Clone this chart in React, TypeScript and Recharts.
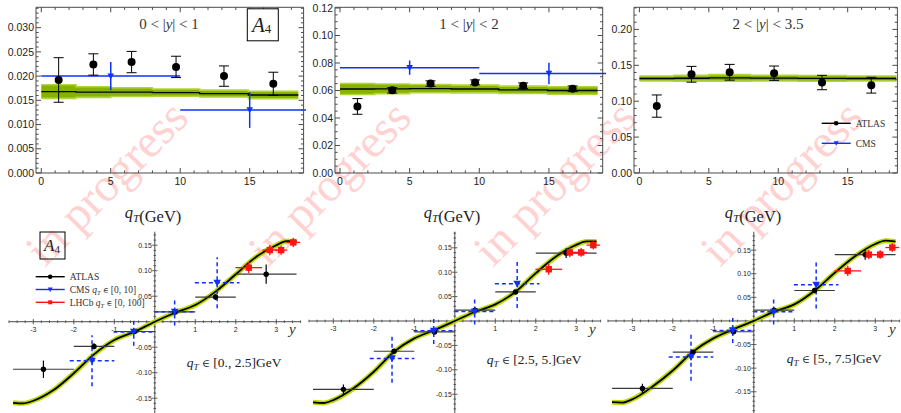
import React from 'react';
import {
  ComposedChart,
  XAxis,
  YAxis,
  Line,
  Area,
  Scatter,
  ErrorBar,
  ReferenceLine,
  ReferenceDot,
} from 'recharts';

const SERIF = "'Liberation Serif', 'Times New Roman', serif";
const SANS = "'Liberation Sans', Arial, sans-serif";
const FRAME = '#4a4a4a';
const BLUE = '#1030ff';
const RED = '#ff1414';
const GREEN = '#86b300';
const GREEN_EDGE = '#b2d43c';
const BAND_LINE = '#bcd800';

// ---------- top row: A4 vs qT ----------
const qtEdges = [0, 2.5, 5, 8, 11.4, 14.9, 18.5];
const qtCenters = [1.25, 3.75, 6.5, 9.7, 13.15, 16.7];
const cmsQt = [5, 15];
const cmsHalf = [5, 5];

// 0 < |y| < 1
const atlas1 = [0.0192, 0.0224, 0.0229, 0.0219, 0.02, 0.0184];
const atlasErr1 = [0.0046, 0.0022, 0.0022, 0.0022, 0.0021, 0.0024];
const cms1 = [0.02, 0.013];
const cmsErr1 = [0.0029, 0.0037];
const theory1 = [0.0168, 0.0167, 0.0167, 0.0166, 0.0164, 0.0161];
const theoryErr1 = [0.0014, 0.0011, 0.0009, 0.00075, 0.0007, 0.00076];

// 1 < |y| < 2
const atlas2 = [0.0484, 0.0601, 0.065, 0.0659, 0.0635, 0.0613];
const atlasErr2 = [0.0057, 0.002, 0.002, 0.0018, 0.002, 0.002];
const cms2 = [0.0766, 0.0724];
const cmsErr2 = [0.0052, 0.0078];
const theory2 = [0.0611, 0.0612, 0.0614, 0.0611, 0.0605, 0.06];
const theoryErr2 = [0.004, 0.0035, 0.003, 0.0028, 0.0027, 0.0027];

// 2 < |y| < 3.5
const atlas3 = [0.0932, 0.1375, 0.1403, 0.139, 0.126, 0.1223];
const atlasErr3 = [0.0155, 0.011, 0.011, 0.01, 0.01, 0.011];
const theory3 = [0.1316, 0.132, 0.1325, 0.1322, 0.1318, 0.1316];
const theoryErr3 = [0.0035, 0.004, 0.0045, 0.004, 0.004, 0.0035];

// ---------- bottom row: A4 vs rapidity ----------
const rapCurve = [-3.5, -3.25, -3, -2.5, -2, -1.5, -1, -0.5, 0, 0.5, 1, 1.5, 2, 2.5, 3, 3.25, 3.5];
const curveA = [-0.159, -0.16, -0.155, -0.134, -0.101, -0.064, -0.036, -0.0196, 0, 0.0176, 0.0327, 0.059, 0.093, 0.127, 0.15, 0.158, 0.158];
const curveB = [-0.1667, -0.168, -0.162, -0.138, -0.104, -0.063, -0.0356, -0.0185, 0, 0.019, 0.034, 0.06, 0.098, 0.132, 0.156, 0.163, 0.163];
const curveC = [-0.172, -0.173, -0.166, -0.139, -0.105, -0.065, -0.037, -0.0176, 0, 0.0197, 0.035, 0.064, 0.102, 0.137, 0.163, 0.17, 0.168];

const atlasRap = [-2.75, -1.5, -0.5, 0.5, 1.5, 2.75];
const atlasRapHalf = [0.75, 0.5, 0.5, 0.5, 0.5, 0.75];
const atlasA = [-0.0932, -0.0484, -0.0192, 0.0192, 0.0484, 0.0932];
const atlasAErr = [0.017, 0.006, 0.005, 0.005, 0.006, 0.019];
const atlasB = [-0.14, -0.062, -0.0224, 0.0224, 0.0595, 0.139];
const atlasBErr = [0.01, 0.003, 0.003, 0.003, 0.003, 0.01];
const atlasC = [-0.143, -0.066, -0.0229, 0.0229, 0.0645, 0.1405];
const atlasCErr = [0.01, 0.003, 0.003, 0.003, 0.003, 0.011];

const cmsRap = [-1.55, -0.52, 0.49, 1.54];
const cmsRapHalf = [0.55, 0.5, 0.5, 0.55];
const cmsA = [-0.0766, -0.02, 0.0196, 0.0765];
const cmsAErr = [0.05, 0.027, 0.027, 0.05];

const lhcbRap = [2.32, 2.84, 3.12, 3.42];
const lhcbRapHalf = [0.33, 0.18, 0.15, 0.17];
const lhcbA = [0.106, 0.1405, 0.1405, 0.1555];
const lhcbAErr = [0.011, 0.01, 0.009, 0.009];

// ---------- helpers ----------
const steps = (a: number, b: number, s: number) => {
  const out: number[] = [];
  for (let i = 0; a + i * s <= b + 1e-9; i++) out.push(+(a + i * s).toFixed(6));
  return out;
};
const isMajor = (v: number, majors: number[]) => majors.some((m) => Math.abs(m - v) < 1e-9);

const bandRows = (c: number[], w: number[]) =>
  qtEdges.map((q, i) => {
    const k = Math.min(i, c.length - 1);
    return { q, c: c[k], range: [c[k] - w[k], c[k] + w[k]] };
  });

const dot = (r: number, fill: string) => (p: any) => <circle cx={p.cx} cy={p.cy} r={r} fill={fill} />;
const tri = (s: number, fill: string) => (p: any) => (
  <polygon
    points={`${p.cx - s},${p.cy - s * 0.8} ${p.cx + s},${p.cy - s * 0.8} ${p.cx},${p.cy + s}`}
    fill={fill}
  />
);
const square = (s: number, fill: string) => (p: any) => (
  <rect x={p.cx - s} y={p.cy - s} width={2 * s} height={2 * s} fill={fill} />
);

const frameTick =
  (side: 'bottom' | 'left' | 'top' | 'right', majors: number[], fmt?: (v: number) => string) =>
  (p: any) => {
    const v = p.payload.value;
    const big = isMajor(v, majors);
    const len = big ? 5 : 2.6;
    const { x, y } = p;
    let ln: any;
    let lb: any = null;
    if (side === 'bottom') {
      ln = <line x1={x} y1={y} x2={x} y2={y - len} stroke={FRAME} strokeWidth={1} />;
      if (big && fmt)
        lb = (
          <text x={x} y={y + 12.5} textAnchor="middle" fontSize={10.5} fontFamily={SANS} fill="#222">
            {fmt(v)}
          </text>
        );
    } else if (side === 'top') {
      ln = <line x1={x} y1={y} x2={x} y2={y + len} stroke={FRAME} strokeWidth={1} />;
    } else if (side === 'left') {
      ln = <line x1={x} y1={y} x2={x + len} y2={y} stroke={FRAME} strokeWidth={1} />;
      if (big && fmt)
        lb = (
          <text x={x - 2} y={y + 3.7} textAnchor="end" fontSize={10.5} fontFamily={SANS} fill="#222">
            {fmt(v)}
          </text>
        );
    } else {
      ln = <line x1={x} y1={y} x2={x - len} y2={y} stroke={FRAME} strokeWidth={1} />;
    }
    return (
      <g>
        {ln}
        {lb}
      </g>
    );
  };

interface TopProps {
  rect: { left: number; top: number; right: number; bottom: number };
  xDomain: [number, number];
  yDomain: [number, number];
  yMajors: number[];
  yMinor: number;
  yDigits: number;
  theory: number[];
  theoryErr: number[];
  atlas: number[];
  atlasErr: number[];
  cms?: number[];
  cmsErr?: number[];
}

const TopPanel = ({ rect, xDomain, yDomain, yMajors, yMinor, yDigits, theory, theoryErr, atlas, atlasErr, cms, cmsErr }: TopProps) => {
  const left0 = rect.left - 36;
  const width = rect.right - left0 + 3;
  const height = rect.bottom + 30;
  const xMajors = [0, 5, 10, 15];
  const xTicks = steps(0, 18, 1);
  const yTicks = steps(yDomain[0], yDomain[1], yMinor);
  const band = bandRows(theory, theoryErr);
  const atlasRows = qtCenters.map((q, i) => ({ q, v: atlas[i], ey: atlasErr[i] }));
  const cmsRows = cms ? cmsQt.map((q, i) => ({ q, v: cms[i], ex: cmsHalf[i], ey: (cmsErr as number[])[i] })) : null;
  const axisLine = { stroke: FRAME, strokeWidth: 1 };
  return (
    <div style={{ position: 'absolute', left: left0, top: 0 }}>
      <ComposedChart width={width} height={height} margin={{ top: rect.top - 1, right: 2, bottom: 0, left: 0 }}>
        <XAxis
          type="number"
          dataKey="q"
          domain={xDomain}
          allowDataOverflow
          ticks={xTicks}
          interval={0}
          height={30}
          tickSize={0}
          tickMargin={0}
          tickLine={false}
          axisLine={axisLine}
          tick={frameTick('bottom', xMajors, (v) => String(v))}
        />
        <XAxis
          xAxisId="t"
          orientation="top"
          type="number"
          dataKey="q"
          domain={xDomain}
          allowDataOverflow
          ticks={xTicks}
          interval={0}
          height={1}
          tickSize={0}
          tickMargin={0}
          tickLine={false}
          axisLine={axisLine}
          tick={frameTick('top', xMajors)}
        />
        <YAxis
          type="number"
          domain={yDomain}
          allowDataOverflow
          ticks={yTicks}
          interval={0}
          width={36}
          tickSize={0}
          tickMargin={0}
          tickLine={false}
          axisLine={axisLine}
          tick={frameTick('left', yMajors, (v) => v.toFixed(yDigits))}
        />
        <YAxis
          yAxisId="r"
          orientation="right"
          type="number"
          domain={yDomain}
          allowDataOverflow
          ticks={yTicks}
          interval={0}
          width={1}
          tickSize={0}
          tickMargin={0}
          tickLine={false}
          axisLine={axisLine}
          tick={frameTick('right', yMajors)}
        />
        <Area
          data={band}
          dataKey="range"
          type="stepAfter"
          fill={GREEN}
          fillOpacity={1}
          stroke={GREEN_EDGE}
          strokeWidth={1.6}
          dot={false}
          activeDot={false}
          isAnimationActive={false}
        />
        <Line
          data={band}
          dataKey="c"
          type="stepAfter"
          stroke="#000"
          strokeWidth={1.3}
          dot={false}
          activeDot={false}
          isAnimationActive={false}
        />
        {cmsRows && (
          <Scatter data={cmsRows} dataKey="v" shape={tri(3.3, BLUE)} isAnimationActive={false}>
            <ErrorBar dataKey="ex" direction="x" width={0} stroke={BLUE} strokeWidth={1.5} />
            <ErrorBar dataKey="ey" direction="y" width={0} stroke={BLUE} strokeWidth={1.5} />
          </Scatter>
        )}
        <Scatter data={atlasRows} dataKey="v" shape={dot(4, '#000')} isAnimationActive={false}>
          <ErrorBar dataKey="ey" direction="y" width={5} stroke="#000" strokeWidth={1} />
        </Scatter>
      </ComposedChart>
    </div>
  );
};

interface BottomProps {
  axisX: number;
  yDomain: [number, number];
  curve: number[];
  atlas: number[];
  atlasErr: number[];
}

const xTickShape = (t: number) => (p: any) => {
  const big = Math.abs(t - Math.round(t)) < 1e-9;
  const len = big ? 2.6 : 1.3;
  return (
    <g>
      <line x1={p.cx} y1={p.cy - len} x2={p.cx} y2={p.cy + len} stroke={FRAME} strokeWidth={0.9} />
      {big && (
        <text x={p.cx} y={p.cy + 10} textAnchor="middle" fontSize={7} fontFamily={SANS} fill="#222">
          {String(t)}
        </text>
      )}
    </g>
  );
};

const yTickShape = (t: number) => (p: any) => {
  const big = Math.abs(t / 0.05 - Math.round(t / 0.05)) < 1e-6;
  const len = big ? 2.6 : 1.3;
  return (
    <g>
      <line x1={p.cx - len} y1={p.cy} x2={p.cx + len} y2={p.cy} stroke={FRAME} strokeWidth={0.9} />
      {big && (
        <text x={p.cx - 3} y={p.cy + 2.5} textAnchor="end" fontSize={7} fontFamily={SANS} fill="#222">
          {t.toFixed(2)}
        </text>
      )}
    </g>
  );
};

const BottomPanel = ({ axisX, yDomain, curve, atlas, atlasErr }: BottomProps) => {
  const xDomain: [number, number] = [-3.6, 3.6];
  const plotW = 291.6;
  const left0 = axisX - plotW / 2 - 5;
  const curveRows = rapCurve.map((r, i) => ({ r, a: curve[i] }));
  const atlasRows = atlasRap.map((r, i) => ({ r, a: atlas[i], ex: atlasRapHalf[i], ey: atlasErr[i] }));
  const cmsRows = cmsRap.map((r, i) => ({ r, a: cmsA[i], ex: cmsRapHalf[i], ey: cmsAErr[i] }));
  const lhcbRows = lhcbRap.map((r, i) => ({ r, a: lhcbA[i], ex: lhcbRapHalf[i], ey: lhcbAErr[i] }));
  const xTicks = steps(-3.6, 3.6, 0.2).filter((t) => Math.abs(t) > 1e-9);
  const yTicks = steps(Math.ceil(yDomain[0] / 0.01) * 0.01, yDomain[1], 0.01).filter((t) => Math.abs(t) > 1e-9);
  return (
    <div style={{ position: 'absolute', left: left0, top: 225 }}>
      <ComposedChart width={plotW + 10} height={188} margin={{ top: 6.7, right: 5, bottom: 0, left: 5 }}>
        <XAxis type="number" dataKey="r" domain={xDomain} allowDataOverflow hide />
        <YAxis type="number" domain={yDomain} allowDataOverflow hide />
        <ReferenceLine y={0} stroke={FRAME} strokeWidth={1} />
        <ReferenceLine x={0} stroke={FRAME} strokeWidth={1} />
        {xTicks.map((t) => (
          <ReferenceDot key={'x' + t} x={t} y={0} r={0} shape={xTickShape(t)} />
        ))}
        {yTicks.map((t) => (
          <ReferenceDot key={'y' + t} x={0} y={t} r={0} shape={yTickShape(t)} />
        ))}
        <Line
          data={curveRows}
          dataKey="a"
          type="monotone"
          stroke={BAND_LINE}
          strokeWidth={5}
          dot={false}
          activeDot={false}
          isAnimationActive={false}
        />
        <Line
          data={curveRows}
          dataKey="a"
          type="monotone"
          stroke="#000"
          strokeWidth={1.8}
          dot={false}
          activeDot={false}
          isAnimationActive={false}
        />
        <Scatter data={atlasRows} dataKey="a" shape={dot(2.7, '#000')} isAnimationActive={false}>
          <ErrorBar dataKey="ex" direction="x" width={0} stroke="#3a3a3a" strokeWidth={1.2} />
          <ErrorBar dataKey="ey" direction="y" width={0} stroke="#000" strokeWidth={1.2} />
        </Scatter>
        <Scatter data={cmsRows} dataKey="a" shape={tri(3.8, BLUE)} isAnimationActive={false}>
          <ErrorBar dataKey="ex" direction="x" width={0} stroke={BLUE} strokeWidth={1.5} strokeDasharray="4 3" />
          <ErrorBar dataKey="ey" direction="y" width={0} stroke={BLUE} strokeWidth={1.5} strokeDasharray="4 3" />
        </Scatter>
        <Scatter data={lhcbRows} dataKey="a" shape={square(3.2, RED)} isAnimationActive={false}>
          <ErrorBar dataKey="ex" direction="x" width={0} stroke={RED} strokeWidth={1.3} />
          <ErrorBar dataKey="ey" direction="y" width={0} stroke={RED} strokeWidth={1.3} />
        </Scatter>
      </ComposedChart>
    </div>
  );
};

const Elem = ({ size }: { size: number }) => (
  <tspan fontFamily="'DejaVu Serif', serif" fontSize={size * 0.8} fontWeight={300}>
    {' ∈ '}
  </tspan>
);

const QtText = ({ x, y, size, anchor, tail, elem }: { x: number; y: number; size: number; anchor: string; tail: string; elem?: boolean }) => (
  <text x={x} y={y} fontSize={size} fontFamily={SERIF} fill="#222" textAnchor={anchor as any}>
    <tspan fontStyle="italic">q</tspan>
    <tspan fontStyle="italic" fontSize={size * 0.68} dy={size * 0.22}>
      T
    </tspan>
    <tspan dy={-size * 0.22}>{elem ? ' ' : ''}</tspan>
    {elem && <Elem size={size} />}
    <tspan>{tail}</tspan>
  </text>
);

const Title = ({ x, lo, hi }: { x: number; lo: string; hi: string }) => (
  <text x={x} y={29} textAnchor="middle" fontSize={15} fontFamily={SERIF} fill="#333">
    {lo} &lt; |<tspan fontStyle="italic">y</tspan>| &lt; {hi}
  </text>
);

const LegendRow = ({ x, y, color, marker, children }: { x: number; y: number; color: string; marker: string; children: any }) => (
  <g>
    <line x1={x} y1={y} x2={x + 29} y2={y} stroke={color} strokeWidth={1.4} />
    {marker === 'dot' && <circle cx={x + 14.5} cy={y} r={2.3} fill={color} />}
    {marker === 'tri' && <polygon points={`${x + 12},${y - 2} ${x + 17},${y - 2} ${x + 14.5},${y + 2.5}`} fill={color} />}
    {marker === 'sq' && <rect x={x + 12.5} y={y - 2} width={4} height={4} fill={color} />}
    <text x={x + 34} y={y + 3.3} fontSize={9.5} fontFamily={SERIF} fill="#333">
      {children}
    </text>
  </g>
);

const QtInline = ({ range }: { range: string }) => (
  <>
    <tspan fontStyle="italic">q</tspan>
    <tspan fontStyle="italic" fontSize={6.5} dy={2}>
      T
    </tspan>
    <tspan dy={-2}> </tspan>
    <tspan fontFamily="'DejaVu Serif', serif" fontSize={7.5}>
      ∈
    </tspan>
    <tspan> {range}</tspan>
  </>
);

const App = () => (
  <div style={{ position: 'absolute', left: 0, top: 0, width: 901, height: 413, background: '#fff', overflow: 'hidden' }}>
    <svg width={901} height={413} style={{ position: 'absolute', left: 0, top: 0 }}>
      {[45, 268, 493, 720].map((x) => (
        <text key={x} x={x} y={268} transform={`rotate(-45.5 ${x} 268)`} fontSize={47} fontFamily={SERIF} fill="#ffd2d2">
          in progress
        </text>
      ))}
    </svg>

    <TopPanel
      rect={{ left: 35.7, top: 7.3, right: 303.3, bottom: 173 }}
      xDomain={[-0.38, 18.88]}
      yDomain={[0, 0.0342]}
      yMajors={[0, 0.005, 0.01, 0.015, 0.02, 0.025, 0.03]}
      yMinor={0.001}
      yDigits={3}
      theory={theory1}
      theoryErr={theoryErr1}
      atlas={atlas1}
      atlasErr={atlasErr1}
      cms={cms1}
      cmsErr={cmsErr1}
    />
    <TopPanel
      rect={{ left: 335, top: 7.3, right: 602.7, bottom: 173 }}
      xDomain={[-0.36, 18.86]}
      yDomain={[0, 0.1205]}
      yMajors={[0, 0.02, 0.04, 0.06, 0.08, 0.1, 0.12]}
      yMinor={0.005}
      yDigits={2}
      theory={theory2}
      theoryErr={theoryErr2}
      atlas={atlas2}
      atlasErr={atlasErr2}
      cms={cms2}
      cmsErr={cmsErr2}
    />
    <TopPanel
      rect={{ left: 634.3, top: 7.3, right: 897.7, bottom: 173 }}
      xDomain={[-0.39, 18.58]}
      yDomain={[0, 0.2308]}
      yMajors={[0, 0.05, 0.1, 0.15, 0.2]}
      yMinor={0.01}
      yDigits={2}
      theory={theory3}
      theoryErr={theoryErr3}
      atlas={atlas3}
      atlasErr={atlasErr3}
    />

    <BottomPanel axisX={154.3} yDomain={[-0.179, 0.1765]} curve={curveA} atlas={atlasA} atlasErr={atlasAErr} />
    <BottomPanel axisX={454.3} yDomain={[-0.1885, 0.183]} curve={curveB} atlas={atlasB} atlasErr={atlasBErr} />
    <BottomPanel axisX={753.7} yDomain={[-0.195, 0.189]} curve={curveC} atlas={atlasC} atlasErr={atlasCErr} />

    <svg width={901} height={413} style={{ position: 'absolute', left: 0, top: 0, pointerEvents: 'none' }}>
      <Title x={169} lo="0" hi="1" />
      <Title x={469} lo="1" hi="2" />
      <Title x={768} lo="2" hi="3.5" />

      <rect x={247.3} y={8.8} width={31} height={32} fill="#fff" stroke="#000" strokeWidth={1} />
      <text x={252} y={31.7} fontSize={21} fontFamily={SERIF} fill="#222">
        <tspan fontStyle="italic">A</tspan>
        <tspan fontSize={13} dy={1.5}>4</tspan>
      </text>

      <rect x={40} y={232} width={25} height={27} fill="none" stroke="#000" strokeWidth={1} />
      <text x={44} y={251} fontSize={17} fontFamily={SERIF} fill="#222">
        <tspan fontStyle="italic">A</tspan>
        <tspan fontSize={11} dy={1.5}>4</tspan>
      </text>

      <LegendRow x={821.7} y={123.3} color="#000" marker="dot">ATLAS</LegendRow>
      <LegendRow x={821.7} y={143.3} color={BLUE} marker="tri">CMS</LegendRow>

      <LegendRow x={35.7} y={276.7} color="#000" marker="dot">ATLAS</LegendRow>
      <LegendRow x={35.7} y={289.5} color={BLUE} marker="tri">
        CMS <QtInline range="[0, 10]" />
      </LegendRow>
      <LegendRow x={35.7} y={302.3} color={RED} marker="sq">
        LHCb <QtInline range="[0, 100]" />
      </LegendRow>

      <QtText x={153} y={218} size={16.5} anchor="middle" tail="(GeV)" />
      <QtText x={452} y={218} size={16.5} anchor="middle" tail="(GeV)" />
      <QtText x={753} y={218} size={16.5} anchor="middle" tail="(GeV)" />

      <QtText x={186.7} y={366.7} size={13.5} anchor="start" elem tail=" [0., 2.5]GeV" />
      <QtText x={486.7} y={364} size={13.5} anchor="start" elem tail=" [2.5, 5.]GeV" />
      <QtText x={786.7} y={363.3} size={13.5} anchor="start" elem tail=" [5., 7.5]GeV" />

      {[289, 589, 889].map((x) => (
        <text key={x} x={x} y={334} fontSize={15} fontStyle="italic" fontFamily={SERIF} fill="#333">
          y
        </text>
      ))}
    </svg>
  </div>
);

export default App;
